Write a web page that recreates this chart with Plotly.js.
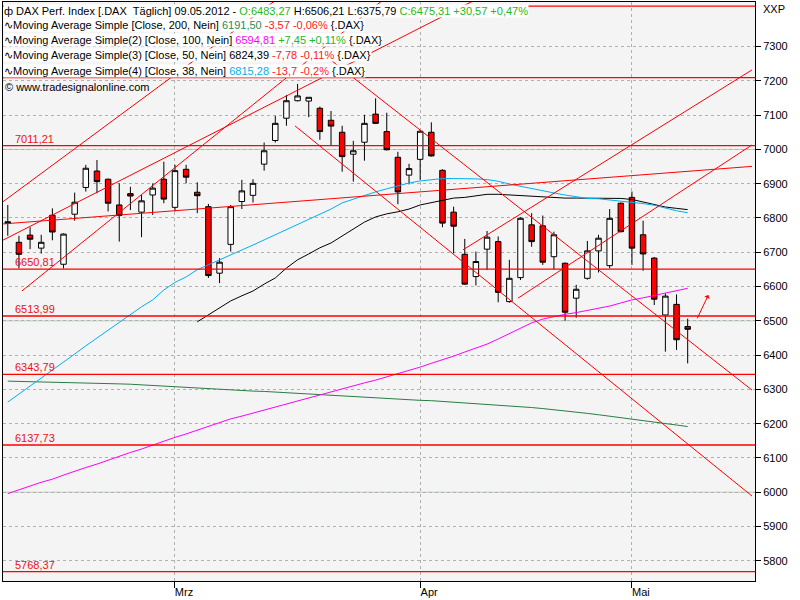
<!DOCTYPE html>
<html><head><meta charset="utf-8">
<script src="https://cdn.plot.ly/plotly-3.0.1.min.js"></script>
<style>html,body{margin:0;padding:0;background:#fff;}#chart{width:800px;height:600px;}</style>
</head><body><div id="chart"></div>
<script>
// ---- data ----
const dates = ['2012-02-09','2012-02-10','2012-02-13','2012-02-14','2012-02-15','2012-02-16','2012-02-17','2012-02-20','2012-02-21','2012-02-22','2012-02-23','2012-02-24','2012-02-27','2012-02-28','2012-02-29',
'2012-03-01','2012-03-02','2012-03-05','2012-03-06','2012-03-07','2012-03-08','2012-03-09','2012-03-12','2012-03-13','2012-03-14','2012-03-15','2012-03-16','2012-03-19','2012-03-20','2012-03-21','2012-03-22','2012-03-23','2012-03-26','2012-03-27','2012-03-28','2012-03-29','2012-03-30',
'2012-04-02','2012-04-03','2012-04-04','2012-04-05','2012-04-10','2012-04-11','2012-04-12','2012-04-13','2012-04-16','2012-04-17','2012-04-18','2012-04-19','2012-04-20','2012-04-23','2012-04-24','2012-04-25','2012-04-26','2012-04-27','2012-04-30',
'2012-05-02','2012-05-03','2012-05-04','2012-05-07','2012-05-08','2012-05-09'];
const openP  = [6784,6729,6750,6712,6808,6665,6811,6889,6937,6913,6838,6871,6817,6867,6913,6831,6942,6875,6833,6639,6723,6848,6866,6957,7026,7091,7142,7141,7120,7085,7050,6986,7021,7103,7052,6977,6925,6971,7050,6939,6817,6694,6629,6709,6731,6556,6626,6780,6777,6687,6668,6566,6624,6704,6661,6843,6860,6751,6683,6517,6548,6483.27];
const highP  = [6838,6748,6773,6751,6828,6755,6874,6955,6969,6915,6901,6891,6867,6901,6964,6955,6955,6904,6841,6683,6838,6911,6913,7020,7098,7159,7191,7152,7125,7112,7069,7025,7101,7149,7107,6993,6958,7056,7079,6942,6833,6739,6702,6762,6746,6678,6802,6814,6807,6760,6670,6605,6733,6751,6826,6845,6877,6792,6686,6580,6577,6506.21];
const lowP   = [6748,6653,6709,6696,6735,6653,6792,6877,6872,6819,6731,6823,6744,6809,6843,6819,6901,6814,6625,6610,6702,6826,6845,6938,7020,7069,7140,7094,7028,7011,6935,6906,6967,7074,6997,6840,6898,6911,6979,6773,6697,6605,6603,6648,6554,6553,6619,6716,6663,6650,6500,6509,6620,6641,6653,6758,6663,6646,6546,6410,6415,6375.79];
const closeP = [6789,6694,6738,6729,6759,6753,6846,6945,6906,6843,6807,6864,6850,6887,6855,6938,6919,6865,6632,6671,6833,6879,6901,6996,7076,7142,7156,7152,7052,7068,6979,6996,7076,7076,6999,6876,6944,7053,6981,6785,6776,6607,6673,6744,6583,6624,6799,6731,6671,6751,6525,6592,6704,6741,6799,6760,6712,6695,6563,6572,6444.74,6475.31];
const ma200 = [6324,6323,6323,6322,6322,6321,6320,6319,6318,6317,6316,6315,6313,6311,6310,6308,6306,6304,6303,6301,6299,6297,6295,6294,6292,6290,6288,6286,6285,6283,6281,6279,6277,6276,6274,6272,6270,6268,6267,6265,6263,6261,6259,6257,6255,6253,6250,6247,6244,6241,6238,6234,6230,6226,6222,6218,6214,6209,6205,6200,6196,6191.5];
const ma100 = [5996,6006,6018,6029,6038,6050,6062,6072,6082,6094,6106,6116,6126,6138,6149,6160,6170,6181,6193,6203,6214,6222,6231,6240,6249,6257,6266,6275,6284,6292,6301,6310,6319,6327,6336,6345,6355,6365,6376,6386,6397,6409,6421,6432,6447,6462,6479,6494,6505,6513,6519,6524,6530,6536,6543,6552,6561,6567,6574,6581,6587,6594.81];
const ma50 = [null,null,null,null,null,null,null,null,null,null,null,null,null,null,null,null,null,6497,6517,6538,6558,6573,6587,6607,6625,6654,6678,6695,6713,6727,6748,6768,6788,6803,6812,6818,6826,6838,6845,6853,6858,6860,6864,6869,6869,6867,6867,6864,6861,6859,6858,6858,6858,6858,6858,6857,6854,6847,6838,6832,6828,6824.39];
const ma38 = [6263,6286,6310,6333,6357,6380,6403,6427,6450,6473,6497,6520,6541,6561,6590,6612,6628,6649,6663,6678,6692,6707,6721,6736,6751,6765,6780,6794,6809,6826,6844,6855,6864,6876,6885,6894,6902,6908,6912,6915,6915,6915,6914,6912,6907,6899,6892,6885,6879,6873,6867,6861,6857,6856,6853,6850,6847,6842,6837,6829,6821,6815.28];
const levels = [7418, 7209.5, 7011.21, 6650.81, 6513.99, 6343.79, 6137.73, 5768.37];
const levelLabels = ['', '', '7011,21', '6650,81', '6513,99', '6343,79', '6137,73', '5768,37'];
const trendStartX = [-0.43, -0.43, -0.43, 1.27, 25.77, 27.83, 45.77, 40.84];
const trendStartY = [6782.6, 6847.4, 6735.4, 6587, 7068.6, 7290, 6566, 6707];
const trendEndX   = [66.77, 24.06, 41.92, 33.66, 66.77, 66.77, 66.77, 66.77];
const trendEndY   = [6950.5, 7436, 7436, 7436, 5988.9, 6298, 7013, 7232];
const arrowFrom = [61.8, 6503];
const arrowTo = [62.85, 6575];
const monthTickDates = ['2012-03-01','2012-04-02','2012-05-02'];
const monthLabels = ['Mrz','Apr','Mai'];
const priceTicks = [5800,5900,6000,6100,6200,6300,6400,6500,6600,6700,6800,6900,7000,7100,7200,7300];
const majorGrid = [6000, 6500, 7000];

// ---- chart ----
const xi = dates.map((d, i) => i);
const FONT = 'Liberation Sans, Arial, sans-serif';
const traces = [
  {type:'scatter', mode:'lines', x:xi, y:ma200, line:{color:'#2a7d45', width:1}, hoverinfo:'skip'},
  {type:'scatter', mode:'lines', x:xi, y:ma100, line:{color:'#ff00ff', width:1}, hoverinfo:'skip'},
  {type:'scatter', mode:'lines', x:xi, y:ma50, line:{color:'#000000', width:1}, hoverinfo:'skip'},
  {type:'scatter', mode:'lines', x:xi, y:ma38, line:{color:'#00b0f0', width:1}, hoverinfo:'skip'},
  {type:'candlestick', x:xi, open:openP, high:highP, low:lowP, close:closeP,
   whiskerwidth:0,
   increasing:{line:{color:'#000', width:1}, fillcolor:'#ffffff'},
   decreasing:{line:{color:'#000', width:1}, fillcolor:'#ff0000'}}
];

const shapes = [];
majorGrid.forEach(v => shapes.push({type:'line', xref:'paper', x0:0, x1:1, yref:'y', y0:v, y1:v, layer:'below', line:{color:'#b9ccb9', width:1}}));
levels.forEach(v => shapes.push({type:'line', xref:'paper', x0:0, x1:1, yref:'y', y0:v, y1:v, layer:'above', line:{color:'#ff0000', width:1.3}}));
trendStartX.forEach((x0, k) => shapes.push({type:'line', xref:'x', yref:'y', x0:x0, y0:trendStartY[k], x1:trendEndX[k], y1:trendEndY[k], layer:'above', line:{color:'#ff0000', width:1}}));

const PX0 = 3, PW = 752, PY0 = 2, PH = 579;
const px = x => (x - PX0) / PW;
const py = y => (PY0 + PH - y) / PH;
const G = '#22b822', R = '#ff2020';
const span = (c, t) => '<span style="color:' + c + '">' + t + '</span>';
const legendLines = [
  'ф DAX Perf. Index [.DAX&nbsp;&nbsp;Täglich] 09.05.2012 - ' + span(G,'O:6483,27') + ' H:6506,21 L:6375,79 ' + span(G,'C:6475,31 +30,57 +0,47%'),
  '∿Moving Average Simple [Close, 200, Nein] ' + span('#2a8a55','6191,50') + ' ' + span(R,'-3,57 -0,06%') + ' {.DAX}',
  '∿Moving Average Simple(2) [Close, 100, Nein] ' + span('#ff00ff','6594,81') + ' ' + span(G,'+7,45 +0,11%') + ' {.DAX}',
  '∿Moving Average Simple(3) [Close, 50, Nein] 6824,39 ' + span(R,'-7,78 -0,11%') + ' {.DAX}',
  '∿Moving Average Simple(4) [Close, 38, Nein] ' + span('#00b0f0','6815,28') + ' ' + span(R,'-13,7 -0,2%') + ' {.DAX}'
];
const annotations = [];
legendLines.forEach((t, k) => annotations.push({xref:'paper', yref:'paper', x:px(3), y:py(10.5 + 15*k), xanchor:'left', yanchor:'middle', text:t, showarrow:false, bgcolor:'#ffffff', borderpad:0, font:{family:FONT, size:11, color:'#000'}}));
annotations.push({xref:'paper', yref:'paper', x:px(3), y:py(86.5), xanchor:'left', yanchor:'middle', text:'© www.tradesignalonline.com', showarrow:false, font:{family:FONT, size:11, color:'#000'}});
levels.forEach((v, k) => { if (levelLabels[k]) annotations.push({xref:'paper', yref:'y', x:px(14), y:v, xanchor:'left', yanchor:'bottom', text:levelLabels[k], showarrow:false, borderpad:0, font:{family:FONT, size:11, color:'#ee1111'}}); });
annotations.push({xref:'paper', yref:'paper', x:1, xshift:6, y:py(9), xanchor:'left', yanchor:'middle', text:'XXP', showarrow:false, font:{family:FONT, size:11, color:'#000'}});
annotations.push({xref:'x', yref:'y', axref:'x', ayref:'y', x:arrowTo[0], y:arrowTo[1], ax:arrowFrom[0], ay:arrowFrom[1], showarrow:true, arrowhead:1, arrowsize:1, arrowwidth:1, arrowcolor:'#ff0000', text:'', standoff:0});

const layout = {
  width:800, height:600,
  margin:{l:PX0, r:800-PX0-PW, t:PY0, b:600-PY0-PH, pad:0},
  paper_bgcolor:'#ffffff', plot_bgcolor:'#f4f4f4',
  showlegend:false,
  xaxis:{type:'linear', range:[-0.43, 67.04], tickvals:monthTickDates.map(d => dates.indexOf(d)), ticktext:monthLabels,
    ticks:'outside', ticklen:6, tickcolor:'#000', showgrid:true, gridcolor:'#b0b0b0', griddash:'dot', zeroline:false,
    showline:true, linecolor:'#000', linewidth:1, mirror:true, ticklabelshift:9, ticklabelstandoff:-5, rangeslider:{visible:false},
    tickfont:{family:FONT, size:11, color:'#000'}, fixedrange:true},
  yaxis:{side:'right', range:[5741, 7430], tickmode:'array', tickvals:priceTicks, ticks:'outside', ticklen:5, tickcolor:'#000',
    showgrid:true, gridcolor:'#b0b0b0', griddash:'dot', zeroline:false, showline:true, linecolor:'#000', linewidth:1, mirror:true,
    tickfont:{family:FONT, size:11, color:'#000'}, tickformat:'d', fixedrange:true},
  shapes:shapes, annotations:annotations
};
Plotly.newPlot('chart', traces, layout, {staticPlot:true, displayModeBar:false});
</script></body></html>
